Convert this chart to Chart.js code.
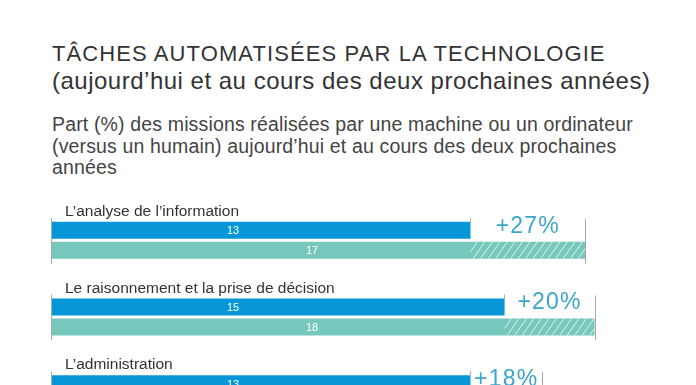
<!DOCTYPE html>
<html>
<head>
<meta charset="utf-8">
<script src="https://cdn.jsdelivr.net/npm/chart.js@4"></script>
<style>
  html, body { margin: 0; padding: 0; background: #fff; width: 696px; height: 385px; overflow: hidden; }
  body { position: relative; font-family: "Liberation Sans", Arial, sans-serif; }
  .line { position: absolute; left: 52px; white-space: nowrap; }
  #title1 { top: 43px; font-size: 22px; line-height: 22px; letter-spacing: 1.1px; color: #333; }
  #title2 { top: 69px; font-size: 24px; line-height: 24px; letter-spacing: 0.5px; color: #333; }
  #subtitle { top: 114px; font-size: 19.5px; line-height: 21.5px; letter-spacing: 0.15px; color: #444; }
  #wrap { position: absolute; left: 0; top: 0; width: 696px; height: 432px; }
</style>
</head>
<body>
<div id="title1" class="line">TÂCHES AUTOMATISÉES PAR LA TECHNOLOGIE</div>
<div id="title2" class="line">(aujourd’hui et au cours des deux prochaines années)</div>
<div id="subtitle" class="line">Part (%) des missions réalisées par une machine ou un ordinateur<br>(versus un humain) aujourd’hui et au cours des deux prochaines<br>années</div>
<div id="wrap"><canvas id="tasksChart"></canvas></div>
<script>
// categories and values
let categories = ['L’analyse de l’information', 'Le raisonnement et la prise de décision', 'L’administration'];
let todayValues = [13.5, 14.6, 13.5];
let futureValues = [17.2, 17.5, 15.8];
let todayLabels = ['13', '15', '13'];
let futureLabels = ['17', '18', '16'];
let growthLabels = ['+27%', '+20%', '+18%'];

let blue = '#0797d8';
let teal = '#77c8bc';

let decorPlugin = {
    id: 'decor',
    afterDatasetsDraw(chart) {
        let ctx = chart.ctx;
        let left = chart.chartArea.left;
        let meta0 = chart.getDatasetMeta(0);
        let meta1 = chart.getDatasetMeta(1);

        categories.forEach((cat, i) => {
            let b = meta0.data[i];
            let t = meta1.data[i];
            let bTop = b.y - b.height / 2;
            let tTop = t.y - t.height / 2;
            let tBottom = t.y + t.height / 2;

            // hatching on the growth part
            ctx.save();
            ctx.beginPath();
            ctx.rect(b.x, tTop, t.x - b.x, t.height);
            ctx.clip();
            ctx.strokeStyle = 'rgba(255,255,255,0.75)';
            ctx.lineWidth = 1;
            for (let x = b.x - 20; x < t.x + 20; x += 7.5) {
                ctx.beginPath();
                ctx.moveTo(x, tBottom);
                ctx.lineTo(x + t.height * 0.7, tTop);
                ctx.stroke();
            }
            ctx.restore();

            // axis and end ticks
            ctx.save();
            ctx.strokeStyle = '#a8a8a8';
            ctx.lineWidth = 1;
            ctx.beginPath();
            ctx.moveTo(left - 0.5, bTop - 4);
            ctx.lineTo(left - 0.5, tBottom + 5);
            ctx.moveTo(Math.round(t.x) + 0.5, bTop - 3);
            ctx.lineTo(Math.round(t.x) + 0.5, tBottom + 5);
            ctx.moveTo(Math.round(b.x) - 0.5, bTop - 4);
            ctx.lineTo(Math.round(b.x) - 0.5, bTop);
            ctx.stroke();
            ctx.restore();

            // category label
            ctx.save();
            ctx.fillStyle = '#333';
            ctx.font = '15.5px "Liberation Sans", Arial, sans-serif';
            ctx.textAlign = 'left';
            ctx.textBaseline = 'alphabetic';
            ctx.fillText(cat, left + 13, bTop - 6);

            // values inside the bars
            ctx.fillStyle = '#fff';
            ctx.font = '11px "Liberation Sans", Arial, sans-serif';
            ctx.textAlign = 'center';
            ctx.textBaseline = 'middle';
            ctx.fillText(todayLabels[i], left + 181, b.y + 1);
            ctx.fillText(futureLabels[i], left + 260, t.y + 1);

            // growth label
            ctx.fillStyle = '#3aa6c9';
            ctx.font = '23px "Liberation Sans", Arial, sans-serif';
            ctx.letterSpacing = '1.2px';
            ctx.fillText(growthLabels[i], (b.x + t.x) / 2, b.y - 4);
            ctx.restore();
        });
    }
};

let canvasTasks = document.getElementById('tasksChart');
let ctxTasks = canvasTasks.getContext('2d');

let tasksChart = new Chart(ctxTasks, {
    type: 'bar',
    data: {
        labels: categories,
        datasets: [{
            label: 'Aujourd’hui',
            data: todayValues,
            backgroundColor: blue,
            categoryPercentage: 0.5215,
            barPercentage: 0.85
        }, {
            label: 'Dans deux ans',
            data: futureValues,
            backgroundColor: teal,
            categoryPercentage: 0.5215,
            barPercentage: 0.85
        }]
    },
    options: {
        indexAxis: 'y',
        responsive: true,
        maintainAspectRatio: false,
        animation: false,
        layout: {
            padding: { left: 52, right: 24, top: 202, bottom: 0 }
        },
        plugins: {
            legend: { display: false },
            tooltip: { enabled: false }
        },
        scales: {
            x: { display: false, min: 0, max: 20 },
            y: { display: false }
        }
    },
    plugins: [decorPlugin]
});
</script>
</body>
</html>
